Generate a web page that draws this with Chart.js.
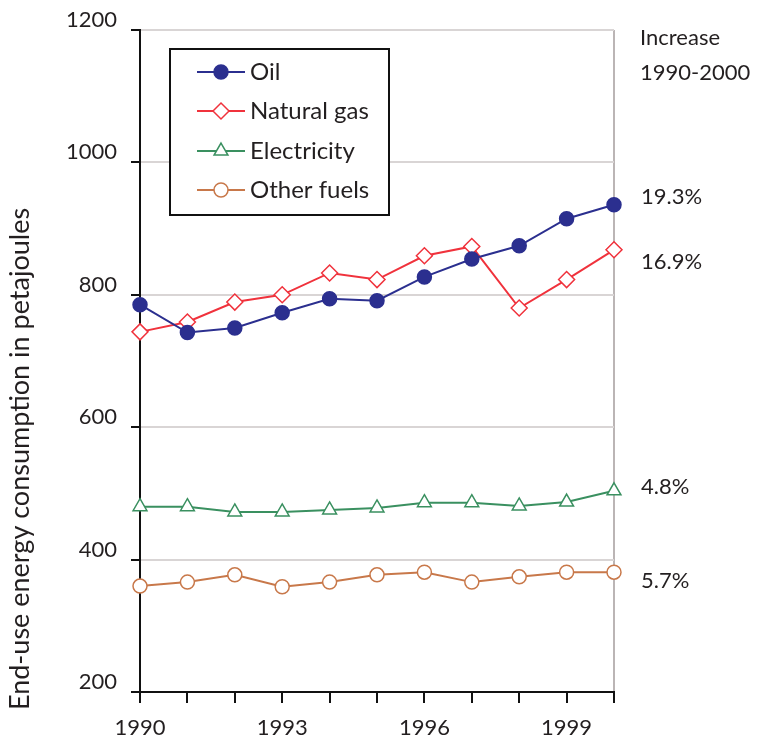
<!DOCTYPE html>
<html>
<head>
<meta charset="utf-8">
<script src="https://cdn.jsdelivr.net/npm/chart.js@4.4.1/dist/chart.umd.min.js"></script>
<style>
html,body{margin:0;padding:0;background:#fff;}
#wrap{width:757px;height:736px;}
</style>
</head>
<body>
<div id="wrap"><canvas id="c" width="757" height="736"></canvas></div>
<script>
const years = ['1990','1991','1992','1993','1994','1995','1996','1997','1998','1999','2000'];
const oil = [785, 743, 750, 773, 794, 791, 827, 854, 874, 915, 936];
const naturalGas = [744, 759, 789, 800, 833, 823, 859, 873, 780, 823, 868];
const electricity = [480, 480, 472, 472, 475, 478, 486, 486, 481, 487, 504];
const otherFuels = [360, 366, 377, 359, 366, 377, 381, 366, 374, 381, 381];
const increaseLabels = ['19.3%', '16.9%', '4.8%', '5.7%'];
const yTicks = [200, 400, 600, 800, 1000, 1200];
const labeledYears = ['1990', '1993', '1996', '1999'];

const FONT = 'Lato, "Open Sans", sans-serif';
const TXT = '#231f20';

const series = [
  {label: 'Oil', data: oil, color: '#2b2f8f', style: 'circle', fill: '#2b2f8f', r: 7},
  {label: 'Natural gas', data: naturalGas, color: '#f0323c', style: 'rectRot', fill: '#ffffff', r: 8},
  {label: 'Electricity', data: electricity, color: '#3a9060', style: 'triangle', fill: '#ffffff', r: 8},
  {label: 'Other fuels', data: otherFuels, color: '#c8784a', style: 'circle', fill: '#ffffff', r: 7}
];

// label anchor values (in data units) for the right-side annotations
const annotationAnchor = [948, 850, 510, 368];

const overlay = {
  id: 'overlay',
  afterDraw(chart) {
    const ctx = chart.ctx;
    const ys = chart.scales.y;
    ctx.save();
    // y-axis title
    ctx.fillStyle = TXT;
    ctx.font = '27px ' + FONT;
    ctx.textAlign = 'center';
    ctx.textBaseline = 'middle';
    ctx.translate(20, 459);
    ctx.rotate(-Math.PI / 2);
    ctx.fillText('End-use energy consumption in petajoules', 0, 0);
    ctx.restore();

    ctx.save();
    ctx.fillStyle = TXT;
    ctx.font = '22px ' + FONT;
    ctx.textAlign = 'left';
    ctx.textBaseline = 'middle';
    ctx.fillText('Increase', 640, 38);
    ctx.fillText('1990-2000', 640, 73);
    increaseLabels.forEach((t, i) => {
      ctx.fillText(t, 641, ys.getPixelForValue(annotationAnchor[i]));
    });

    // legend box
    ctx.strokeStyle = '#111';
    ctx.lineWidth = 2;
    ctx.fillStyle = '#fff';
    ctx.fillRect(170, 49, 219, 166);
    ctx.strokeRect(170, 49, 219, 166);
    const rows = [72, 111, 151, 190];
    chart.data.datasets.forEach((ds, i) => {
      const y = rows[i];
      ctx.strokeStyle = ds.borderColor;
      ctx.lineWidth = 2;
      ctx.beginPath();
      ctx.moveTo(197, y);
      ctx.lineTo(245, y);
      ctx.stroke();
      ctx.fillStyle = ds.pointBackgroundColor;
      ctx.strokeStyle = ds.borderColor;
      ctx.lineWidth = 1.5;
      Chart.helpers.drawPoint(ctx, {pointStyle: ds.pointStyle, radius: ds.pointRadius, borderWidth: 1.5, rotation: 0}, 221, y);
      ctx.fillStyle = TXT;
      ctx.font = '24px ' + FONT;
      ctx.textAlign = 'left';
      ctx.textBaseline = 'middle';
      ctx.fillText(ds.label, 250, y);
    });
    ctx.restore();
  }
};

new Chart(document.getElementById('c'), {
  type: 'line',
  data: {
    labels: years,
    datasets: series.map(s => ({
      label: s.label,
      data: s.data,
      borderColor: s.color,
      backgroundColor: s.fill,
      pointBackgroundColor: s.fill,
      pointBorderColor: s.color,
      pointStyle: s.style,
      pointRadius: s.r,
      pointBorderWidth: 1.5,
      borderWidth: 2,
      tension: 0,
      fill: false
    }))
  },
  options: {
    responsive: false,
    animation: false,
    devicePixelRatio: 1,
    layout: {padding: {top: 30, right: 143, left: 0, bottom: 0}},
    plugins: {legend: {display: false}, tooltip: {enabled: false}},
    scales: {
      x: {
        type: 'category',
        offset: false,
        afterFit(s) { s.height = 44; },
        border: {color: '#111', width: 2},
        grid: {
          color: c => (c.index === years.length - 1 ? '#bbb5b5' : 'rgba(0,0,0,0)'),
          lineWidth: 2,
          tickColor: '#111',
          tickLength: 11,
          drawTicks: true
        },
        ticks: {
          autoSkip: false,
          maxRotation: 0,
          padding: 12,
          color: TXT,
          font: {family: FONT, size: 22},
          callback(v, i) { const l = years[i]; return labeledYears.includes(l) ? l : ''; }
        }
      },
      y: {
        min: 200, max: 1200,
        afterFit(s) { s.width = 140; },
        afterBuildTicks(s) { s.ticks = yTicks.map(v => ({value: v})); },
        border: {color: '#111', width: 2},
        grid: {color: '#d9d5d5', lineWidth: 2, tickColor: '#111', tickLength: 9},
        ticks: {
          padding: 14,
          labelOffset: -10,
          color: TXT,
          font: {family: FONT, size: 22},
          callback(v) { return String(v); }
        }
      }
    }
  },
  plugins: [overlay]
});
</script>
</body>
</html>
